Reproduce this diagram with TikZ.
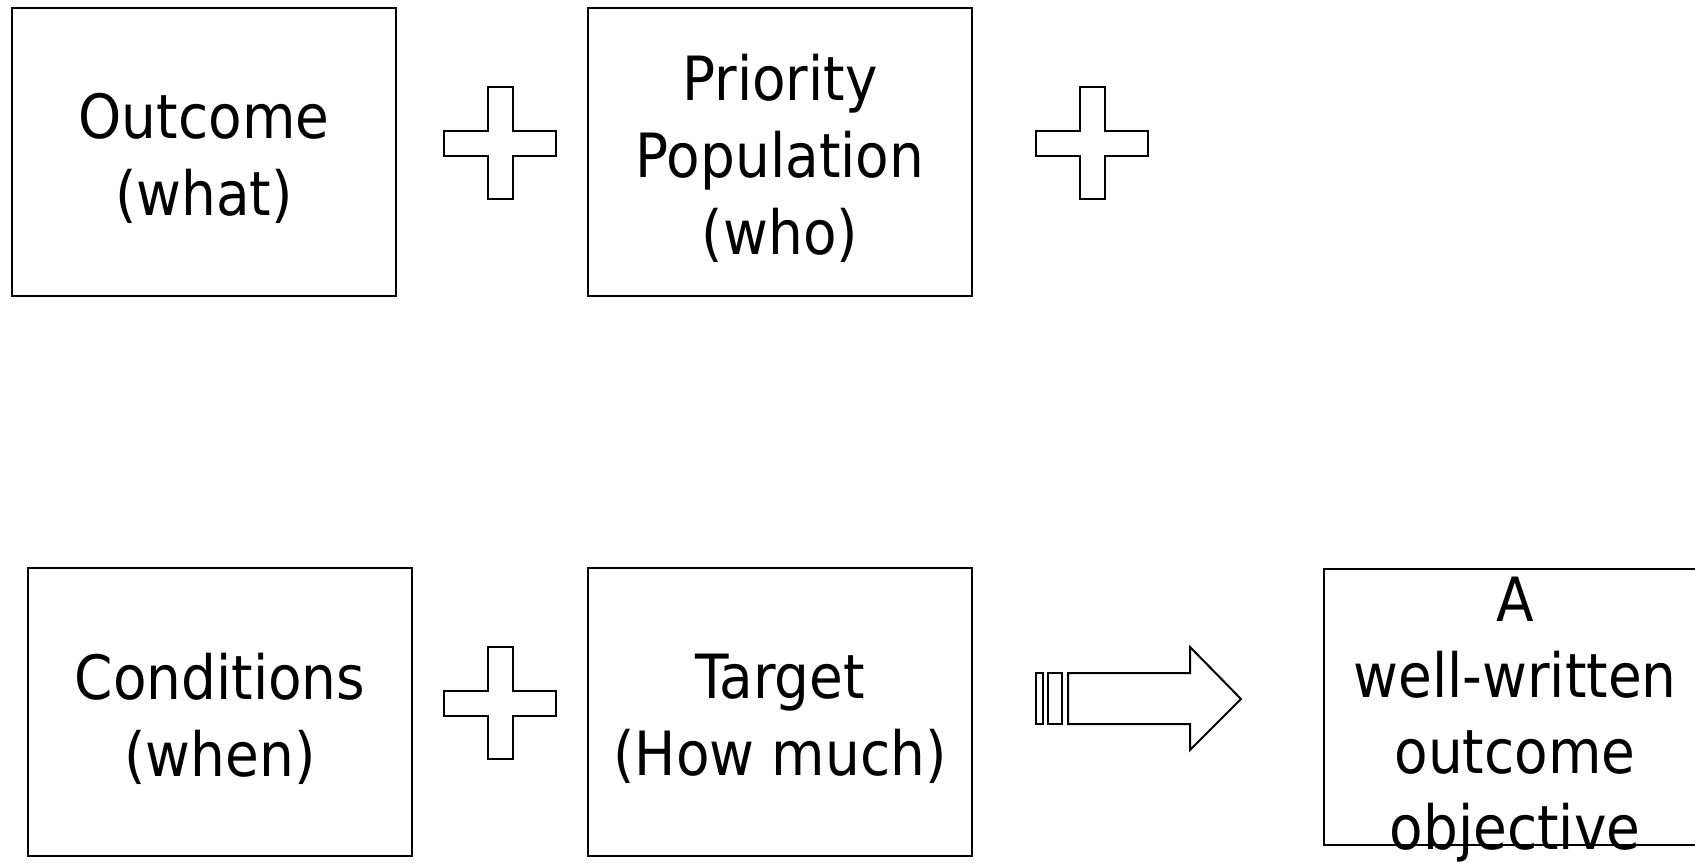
\documentclass[tikz,border=0pt]{standalone}
\usepackage{fontspec}
\setmainfont[FakeStretch=0.9]{DejaVu Sans}
\usepackage{tikz}

\tikzset{
    partbox/.style={draw,line width=1pt,inner sep=0pt,
                    minimum width=192pt,minimum height=144pt},
    parttext/.style={inner sep=0pt,align=center,font=\fontsize{30.5}{38.5}\selectfont},
    outline/.style={draw,line width=1pt,line join=miter,fill=white}
}

\begin{document}
\begin{tikzpicture}[x=0.5pt,y=-0.5pt]
    \useasboundingbox (0,0) rectangle (1695,862);

    % top row
    \node[partbox] (outcome) at (204,151.5) {};
    \node[partbox] (priority) at (780,152) {};
    \node[parttext] (outcome-t) at ([yshift=-3.6pt]outcome.center) {Outcome\\(what)};
    \node[parttext] (priority-t) at ([yshift=-3pt]priority.center) {Priority\\Population\\(who)};

    % bottom row
    \node[partbox] (conditions) at (220,711.5) {};
    \node[partbox] (target) at (780,711.5) {};
    \node[partbox,minimum width=191pt,minimum height=138pt] (objective) at (1515,707) {};
    \node[parttext] (conditions-t) at ([yshift=-3.5pt]conditions.center) {Conditions\\(when)};
    \node[parttext] (target-t) at ([yshift=-3.4pt]target.center) {Target\\(How much)};
    \node[parttext,font=\fontsize{30.5}{38}\selectfont] (objective-t) at ([yshift=-6.5pt]objective.center)
          {A\\well-written\\outcome\\objective};

    % plus signs
    \foreach \cx/\cy in {500/143, 1092/143, 500/703}
        \draw[outline,shift={(\cx,\cy)}] (-12.5,-56)--(12.5,-56)--(12.5,-12.5)--(56,-12.5)--(56,12.5)
            --(12.5,12.5)--(12.5,56)--(-12.5,56)--(-12.5,12.5)--(-56,12.5)--(-56,-12.5)--(-12.5,-12.5)--cycle;

    % block arrow
    \draw[outline] (1036,673) rectangle (1043,724);
    \draw[outline] (1048,673) rectangle (1062,724);
    \draw[outline] (1068,673)--(1190,673)--(1190,647)--(1241,699)--(1190,750)--(1190,724)--(1068,724)--cycle;
\end{tikzpicture}
\end{document}
